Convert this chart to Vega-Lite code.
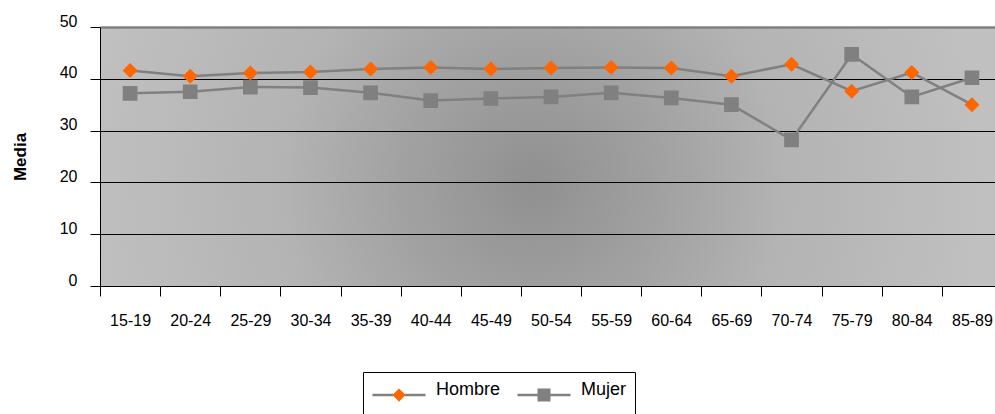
{
  "$schema": "https://vega.github.io/schema/vega-lite/v6.json",
  "width": 902,
  "height": 259,
  "autosize": {"type": "none"},
  "padding": {"left": 100, "top": 27, "right": 0, "bottom": 128},
  "background": "white",
  "config": {
    "font": "Liberation Sans",
    "view": {
      "stroke": null,
      "fill": {
        "gradient": "radial",
        "x1": 0.48, "y1": 0.53, "r1": 0,
        "x2": 0.48, "y2": 0.53, "r2": 0.5,
        "stops": [
          {"offset": 0, "color": "#909090"},
          {"offset": 0.3, "color": "#a2a2a2"},
          {"offset": 0.55, "color": "#b3b3b3"},
          {"offset": 1, "color": "#c0c0c0"}
        ]
      }
    }
  },
  "data": {
    "values": [
      {"edad": "15-19", "sexo": "Hombre", "media": 41.6},
      {"edad": "20-24", "sexo": "Hombre", "media": 40.5},
      {"edad": "25-29", "sexo": "Hombre", "media": 41.1},
      {"edad": "30-34", "sexo": "Hombre", "media": 41.3},
      {"edad": "35-39", "sexo": "Hombre", "media": 41.9},
      {"edad": "40-44", "sexo": "Hombre", "media": 42.2},
      {"edad": "45-49", "sexo": "Hombre", "media": 41.9},
      {"edad": "50-54", "sexo": "Hombre", "media": 42.1},
      {"edad": "55-59", "sexo": "Hombre", "media": 42.2},
      {"edad": "60-64", "sexo": "Hombre", "media": 42.1},
      {"edad": "65-69", "sexo": "Hombre", "media": 40.5},
      {"edad": "70-74", "sexo": "Hombre", "media": 42.8},
      {"edad": "75-79", "sexo": "Hombre", "media": 37.6},
      {"edad": "80-84", "sexo": "Hombre", "media": 41.2},
      {"edad": "85-89", "sexo": "Hombre", "media": 35.0},
      {"edad": "15-19", "sexo": "Mujer", "media": 37.2},
      {"edad": "20-24", "sexo": "Mujer", "media": 37.5},
      {"edad": "25-29", "sexo": "Mujer", "media": 38.4},
      {"edad": "30-34", "sexo": "Mujer", "media": 38.3},
      {"edad": "35-39", "sexo": "Mujer", "media": 37.3},
      {"edad": "40-44", "sexo": "Mujer", "media": 35.8},
      {"edad": "45-49", "sexo": "Mujer", "media": 36.2},
      {"edad": "50-54", "sexo": "Mujer", "media": 36.5},
      {"edad": "55-59", "sexo": "Mujer", "media": 37.3},
      {"edad": "60-64", "sexo": "Mujer", "media": 36.3},
      {"edad": "65-69", "sexo": "Mujer", "media": 35.0},
      {"edad": "70-74", "sexo": "Mujer", "media": 28.2},
      {"edad": "75-79", "sexo": "Mujer", "media": 44.7},
      {"edad": "80-84", "sexo": "Mujer", "media": 36.5},
      {"edad": "85-89", "sexo": "Mujer", "media": 40.2}
    ]
  },
  "encoding": {
    "x": {
      "field": "edad",
      "type": "ordinal",
      "bandPosition": 0.5,
      "scale": {"type": "band", "paddingInner": 0, "paddingOuter": 0},
      "axis": {
        "title": null,
        "labelAngle": 0,
        "tickBand": "extent",
        "tickSize": 10,
        "tickColor": "black",
        "domainColor": "black",
        "labelFontSize": 16,
        "labelColor": "black",
        "labelPadding": 16,
        "grid": false
      }
    },
    "y": {
      "field": "media",
      "type": "quantitative",
      "scale": {"domain": [0, 50], "nice": false},
      "axis": {
        "title": "Media",
        "titleFontSize": 17,
        "titleFontWeight": "bold",
        "titleColor": "black",
        "titlePadding": 30,
        "values": [0, 10, 20, 30, 40, 50],
        "grid": true,
        "gridColor": {"condition": {"test": "datum.value === 50", "value": "#808080"}, "value": "black"},
        "gridWidth": {"condition": {"test": "datum.value === 50", "value": 2.5}, "value": 1},
        "gridOpacity": 1,
        "domainColor": "black",
        "tickColor": "black",
        "tickSize": 10,
        "labelFontSize": 16,
        "labelColor": "black",
        "labelPadding": 13,
        "labelBaseline": "alphabetic",
        "labelOffset": -1
      }
    }
  },
  "layer": [
    {
      "mark": {"type": "line", "strokeWidth": 2.5},
      "encoding": {
        "stroke": {
          "field": "sexo",
          "type": "nominal",
          "scale": {"range": ["#808080", "#808080"]},
          "legend": {
            "orient": "none",
            "legendX": 263,
            "legendY": 345,
            "direction": "horizontal",
            "title": null,
            "symbolType": "M-1,0L-0.22,0M0.22,0L1,0",
            "symbolSize": 2809,
            "symbolStrokeWidth": 2.5,
            "clipHeight": 30,
            "labelFontSize": 18,
            "labelOpacity": 0,
            "labelBaseline": "alphabetic",
            "labelOffset": 9,
            "columnPadding": 15,
            "padding": 8
          }
        }
      }
    },
    {
      "mark": {"type": "point", "filled": true, "size": 3600, "opacity": 1, "strokeWidth": 0},
      "encoding": {
        "fill": {
          "field": "sexo",
          "type": "nominal",
          "scale": {"domain": ["Hombre", "Mujer"], "range": ["#FF6600", "#808080"]},
          "legend": {
            "orient": "none",
            "legendX": 263,
            "legendY": 345,
            "direction": "horizontal",
            "title": null,
            "symbolSize": 2809,
            "symbolStrokeWidth": 2.5,
            "symbolStrokeColor": "transparent",
            "symbolOpacity": 1,
            "clipHeight": 30,
            "labelFontSize": 18,
            "labelColor": "black",
            "labelBaseline": "alphabetic",
            "labelOffset": 9,
            "columnPadding": 15,
            "padding": 8,
            "strokeColor": "black"
          }
        },
        "shape": {
          "field": "sexo",
          "type": "nominal",
          "scale": {
            "domain": ["Hombre", "Mujer"],
            "range": [
              "M-1,0L1,0M0,-0.25L0.25,0L0,0.25L-0.25,0Z",
              "M-1,0L1,0M-0.245,-0.245L0.245,-0.245L0.245,0.245L-0.245,0.245Z"
            ]
          }
        }
      }
    }
  ]
}
